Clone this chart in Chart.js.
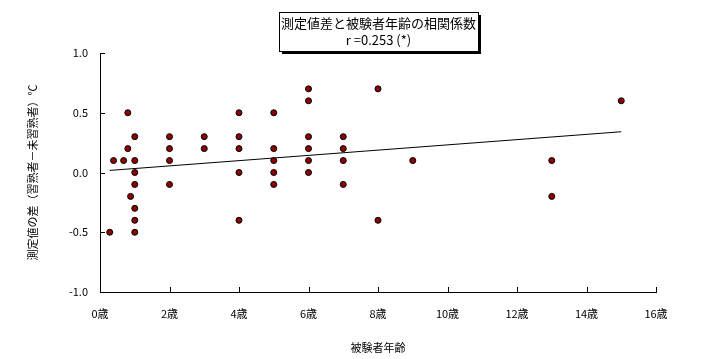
<!DOCTYPE html>
<html>
<head>
<meta charset="utf-8">
<script src="https://cdn.jsdelivr.net/npm/chart.js@4.4.1/dist/chart.umd.min.js"></script>
<style>
  html, body { margin: 0; padding: 0; background: #fff; }
  #wrap { width: 706px; height: 359px; }
</style>
</head>
<body>
<div id="wrap"><canvas id="corrChart" width="706" height="359"></canvas></div>
<script>
// 被験者年齢 (歳) と 測定値の差 (℃)
const ages = [
  0.28, 0.39, 0.68, 0.8, 0.8, 0.88,
  1, 1, 1, 1, 1, 1, 1,
  2, 2, 2, 2,
  3, 3,
  4, 4, 4, 4, 4,
  5, 5, 5, 5, 5,
  6, 6, 6, 6, 6, 6,
  7, 7, 7, 7,
  8, 8,
  9,
  13, 13,
  15
];
const diffs = [
  -0.5, 0.1, 0.1, 0.5, 0.2, -0.2,
  0.3, 0.1, 0.0, -0.1, -0.3, -0.4, -0.5,
  0.3, 0.2, 0.1, -0.1,
  0.3, 0.2,
  0.5, 0.3, 0.2, 0.0, -0.4,
  0.5, 0.2, 0.1, 0.0, -0.1,
  0.7, 0.6, 0.3, 0.2, 0.1, 0.0,
  0.3, 0.2, 0.1, -0.1,
  0.7, -0.4,
  0.1,
  0.1, -0.2,
  0.6
];
const xTickValues = [0, 2, 4, 6, 8, 10, 12, 14, 16];
const yTickValues = [-1.0, -0.5, 0.0, 0.5, 1.0];
const titleLines = ['測定値差と被験者年齢の相関係数', 'r =0.253 (*)'];

const FONT = '"Noto Sans CJK JP", "Noto Sans", sans-serif';

// least squares trend line over the data range
function trend() {
  const n = ages.length;
  const mx = ages.reduce((a, b) => a + b, 0) / n;
  const my = diffs.reduce((a, b) => a + b, 0) / n;
  let sxy = 0, sxx = 0;
  ages.forEach((x, i) => {
    sxy += (x - mx) * (diffs[i] - my);
    sxx += (x - mx) * (x - mx);
  });
  const slope = sxy / sxx;
  const icpt = my - slope * mx;
  const x0 = Math.min(...ages), x1 = Math.max(...ages);
  return [{ x: x0, y: icpt + slope * x0 }, { x: x1, y: icpt + slope * x1 }];
}

const points = ages.map((x, i) => ({ x: x, y: diffs[i] }));

// inward tick marks
const innerTicks = {
  id: 'innerTicks',
  afterDraw(chart) {
    const { ctx, chartArea, scales } = chart;
    ctx.save();
    ctx.strokeStyle = '#000';
    ctx.lineWidth = 1;
    ctx.beginPath();
    xTickValues.forEach(v => {
      const px = Math.round(scales.x.getPixelForValue(v)) + 0.5;
      ctx.moveTo(px, chartArea.bottom);
      ctx.lineTo(px, chartArea.bottom - 5);
    });
    yTickValues.forEach(v => {
      const py = Math.round(scales.y.getPixelForValue(v)) + 0.5;
      ctx.moveTo(chartArea.left, py);
      ctx.lineTo(chartArea.left + 5, py);
    });
    ctx.stroke();
    ctx.restore();
  }
};

// title box with drop shadow
const titleBox = {
  id: 'titleBox',
  afterDraw(chart) {
    const ctx = chart.ctx;
    const bx = 279, by = 12, bw = 199, bh = 39;
    ctx.save();
    ctx.fillStyle = '#000';
    ctx.fillRect(bx + 3, by + 3, bw, bh);
    ctx.fillStyle = '#fff';
    ctx.fillRect(bx, by, bw, bh);
    ctx.strokeStyle = '#000';
    ctx.lineWidth = 1;
    ctx.strokeRect(bx + 0.5, by + 0.5, bw, bh);
    ctx.fillStyle = '#000';
    ctx.font = '13px ' + FONT;
    ctx.textAlign = 'center';
    ctx.textBaseline = 'middle';
    ctx.fillText(titleLines[0], bx + bw / 2, by + 11);
    ctx.fillText(titleLines[1], bx + bw / 2, by + 28);
    ctx.restore();
  }
};

new Chart(document.getElementById('corrChart').getContext('2d'), {
  data: {
    datasets: [
      {
        type: 'scatter',
        data: points,
        backgroundColor: '#8b0000',
        borderColor: '#000',
        borderWidth: 1,
        pointRadius: 3,
        clip: false,
        order: 1
      },
      {
        type: 'line',
        data: trend(),
        borderColor: '#000',
        borderWidth: 1,
        pointRadius: 0,
        fill: false,
        order: 2
      }
    ]
  },
  options: {
    responsive: false,
    animation: false,
    events: [],
    layout: { padding: { top: 53, right: 50, left: 0, bottom: 0 } },
    plugins: {
      legend: { display: false },
      tooltip: { enabled: false }
    },
    scales: {
      x: {
        type: 'linear',
        min: 0,
        max: 16,
        afterFit: s => { s.height = 67; },
        afterBuildTicks: s => { s.ticks = xTickValues.map(v => ({ value: v })); },
        grid: { display: false, drawTicks: false },
        border: { display: true, color: '#000', width: 1 },
        ticks: {
          color: '#000',
          padding: 15,
          maxRotation: 0,
          font: { size: 11, family: FONT },
          callback: v => v + '歳'
        },
        title: {
          display: true,
          text: '被験者年齢',
          color: '#000',
          padding: { top: 0, bottom: 5 },
          font: { size: 11, family: FONT }
        }
      },
      y: {
        type: 'linear',
        min: -1,
        max: 1,
        afterFit: s => { s.width = 100; },
        afterBuildTicks: s => { s.ticks = yTickValues.map(v => ({ value: v })); },
        grid: { display: false, drawTicks: false },
        border: { display: true, color: '#000', width: 1 },
        ticks: {
          color: '#000',
          padding: 12,
          font: { size: 11, family: FONT },
          callback: v => Number(v).toFixed(1)
        },
        title: {
          display: true,
          text: '測定値の差（習熟者－未習熟者）℃',
          color: '#000',
          padding: { top: 26, bottom: 0 },
          font: { size: 11, family: FONT }
        }
      }
    }
  },
  plugins: [innerTicks, titleBox]
});
</script>
</body>
</html>
